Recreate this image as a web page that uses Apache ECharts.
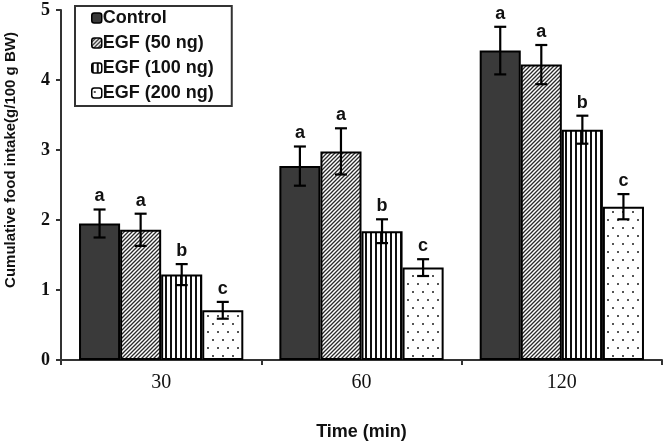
<!DOCTYPE html>
<html>
<head>
<meta charset="utf-8">
<script src="https://cdn.jsdelivr.net/npm/echarts@6/dist/echarts.min.js"></script>
<style>html,body{margin:0;padding:0;background:#fff}#c{width:665px;height:442px}</style>
</head>
<body>
<div id="c"></div>
<script>
const categories = ['30', '60', '120'];
const seriesNames = ['Control', 'EGF (50 ng)', 'EGF (100 ng)', 'EGF (200 ng)'];
const control = [1.95, 2.77, 4.42];
const egf50 = [1.86, 2.98, 4.22];
const egf100 = [1.22, 1.84, 3.29];
const egf200 = [0.71, 1.32, 2.19];
const errControl = [0.2, 0.28, 0.34];
const err50 = [0.23, 0.33, 0.28];
const err100 = [0.15, 0.17, 0.2];
const err200 = [0.12, 0.12, 0.18];
const letters30 = ['a', 'a', 'b', 'c'];
const letters60 = ['a', 'a', 'b', 'c'];
const letters120 = ['a', 'a', 'b', 'c'];
const yTicks = [0, 1, 2, 3, 4, 5];

const values = [control, egf50, egf100, egf200];
const errors = [errControl, err50, err100, err200];
const letters = [letters30, letters60, letters120];

function tile(w, h, draw) {
  const c = document.createElement('canvas');
  c.width = w; c.height = h;
  const ctx = c.getContext('2d');
  draw(ctx, w, h);
  return { image: c, repeat: 'repeat' };
}
const fills = [
  '#3a3a3a',
  tile(4, 4, (ctx, w, h) => {
    ctx.fillStyle = '#fff'; ctx.fillRect(0, 0, w, h);
    ctx.strokeStyle = '#2a2a2a'; ctx.lineWidth = 1.3;
    ctx.beginPath();
    ctx.moveTo(-1, h + 1); ctx.lineTo(w + 1, -1);
    ctx.moveTo(-1, 1); ctx.lineTo(1, -1);
    ctx.moveTo(w - 1, h + 1); ctx.lineTo(w + 1, h - 1);
    ctx.stroke();
  }),
  tile(5, 5, (ctx, w, h) => {
    ctx.fillStyle = '#fff'; ctx.fillRect(0, 0, w, h);
    ctx.fillStyle = '#111'; ctx.fillRect(0, 0, 2, h);
  }),
  tile(10, 16, (ctx, w, h) => {
    ctx.fillStyle = '#fff'; ctx.fillRect(0, 0, w, h);
    ctx.fillStyle = '#555';
    ctx.fillRect(2, 3, 2, 2);
    ctx.fillRect(7, 11, 2, 2);
  })
];

const barFrac = 0.205;
const series = [];
seriesNames.forEach((name, i) => {
  series.push({
    name: name,
    type: 'bar',
    data: values[i],
    barWidth: (barFrac * 100) + '%',
    barGap: '0%',
    itemStyle: { color: fills[i], borderColor: '#000', borderWidth: 2 },
    z: 2
  });
});
seriesNames.forEach((name, i) => {
  series.push({
    type: 'custom',
    name: name + ' err',
    data: categories.map((c, k) => [k, values[i][k], errors[i][k]]),
    z: 5,
    renderItem: function (params, api) {
      const k = api.value(0);
      const v = api.value(1);
      const e = api.value(2);
      const letter = letters[k][i];
      const band = api.size([1, 0])[0];
      const bw = band * barFrac;
      const cx = api.coord([k, v])[0] + (i - 1.5) * bw;
      const yt = api.coord([k, v + e])[1];
      const yb = api.coord([k, v - e])[1];
      const cap = 6;
      const st = { stroke: '#000', lineWidth: 2.2 };
      return {
        type: 'group',
        children: [
          { type: 'line', shape: { x1: cx, y1: yt, x2: cx, y2: yb }, style: st },
          { type: 'line', shape: { x1: cx - cap, y1: yt, x2: cx + cap, y2: yt }, style: st },
          { type: 'line', shape: { x1: cx - cap, y1: yb, x2: cx + cap, y2: yb }, style: st },
          { type: 'text', style: { x: cx, y: yt - 4, text: letter, fill: '#111',
            font: 'bold 18px "Liberation Sans", Arial, sans-serif',
            textAlign: 'center', textVerticalAlign: 'bottom' } }
        ]
      };
    }
  });
});

const chart = echarts.init(document.getElementById('c'));
chart.setOption({
  animation: false,
  backgroundColor: '#fff',
  grid: { left: 61, right: 3, top: 10, bottom: 82, outerBoundsMode: 'none', containLabel: false },
  legend: {
    data: seriesNames,
    orient: 'vertical',
    left: 75, top: 6,
    itemWidth: 10, itemHeight: 10, itemGap: 7,
    padding: [3, 18, 4, 16],
    borderColor: '#333', borderWidth: 2,
    align: 'left',
    textStyle: { fontFamily: '"Liberation Sans", Arial, sans-serif', fontWeight: 'bold', fontSize: 18, color: '#111', padding: [0, 0, 0, -4] },
    itemStyle: { borderColor: '#000', borderWidth: 1.5 }
  },
  xAxis: {
    type: 'category',
    data: categories,
    name: 'Time (min)',
    nameLocation: 'middle',
    nameGap: 63,
    nameTextStyle: { fontFamily: '"Liberation Sans", Arial, sans-serif', fontWeight: 'bold', fontSize: 18, color: '#111' },
    axisLine: { lineStyle: { color: '#333', width: 2 } },
    axisTick: { show: true, length: 5, inside: false, lineStyle: { color: '#333', width: 2 } },
    axisLabel: { fontFamily: '"Liberation Serif", "Times New Roman", serif', fontSize: 20, color: '#111', margin: 13 }
  },
  yAxis: {
    type: 'value',
    min: yTicks[0], max: yTicks[yTicks.length - 1], interval: 1,
    name: 'Cumulative food intake(g/100 g BW)',
    nameLocation: 'middle',
    nameGap: 43,
    nameTextStyle: { fontFamily: '"Liberation Sans", Arial, sans-serif', fontWeight: 'bold', fontSize: 15, color: '#111', padding: [0, 0, 0, 50] },
    axisLine: { show: true, lineStyle: { color: '#333', width: 2 } },
    axisTick: { show: true, length: 5, lineStyle: { color: '#333', width: 2 } },
    splitLine: { show: false },
    axisLabel: { fontFamily: '"Liberation Serif", "Times New Roman", serif', fontWeight: 'bold', fontSize: 18, color: '#111', margin: 11 }
  },
  series: series
});
</script>
</body>
</html>
